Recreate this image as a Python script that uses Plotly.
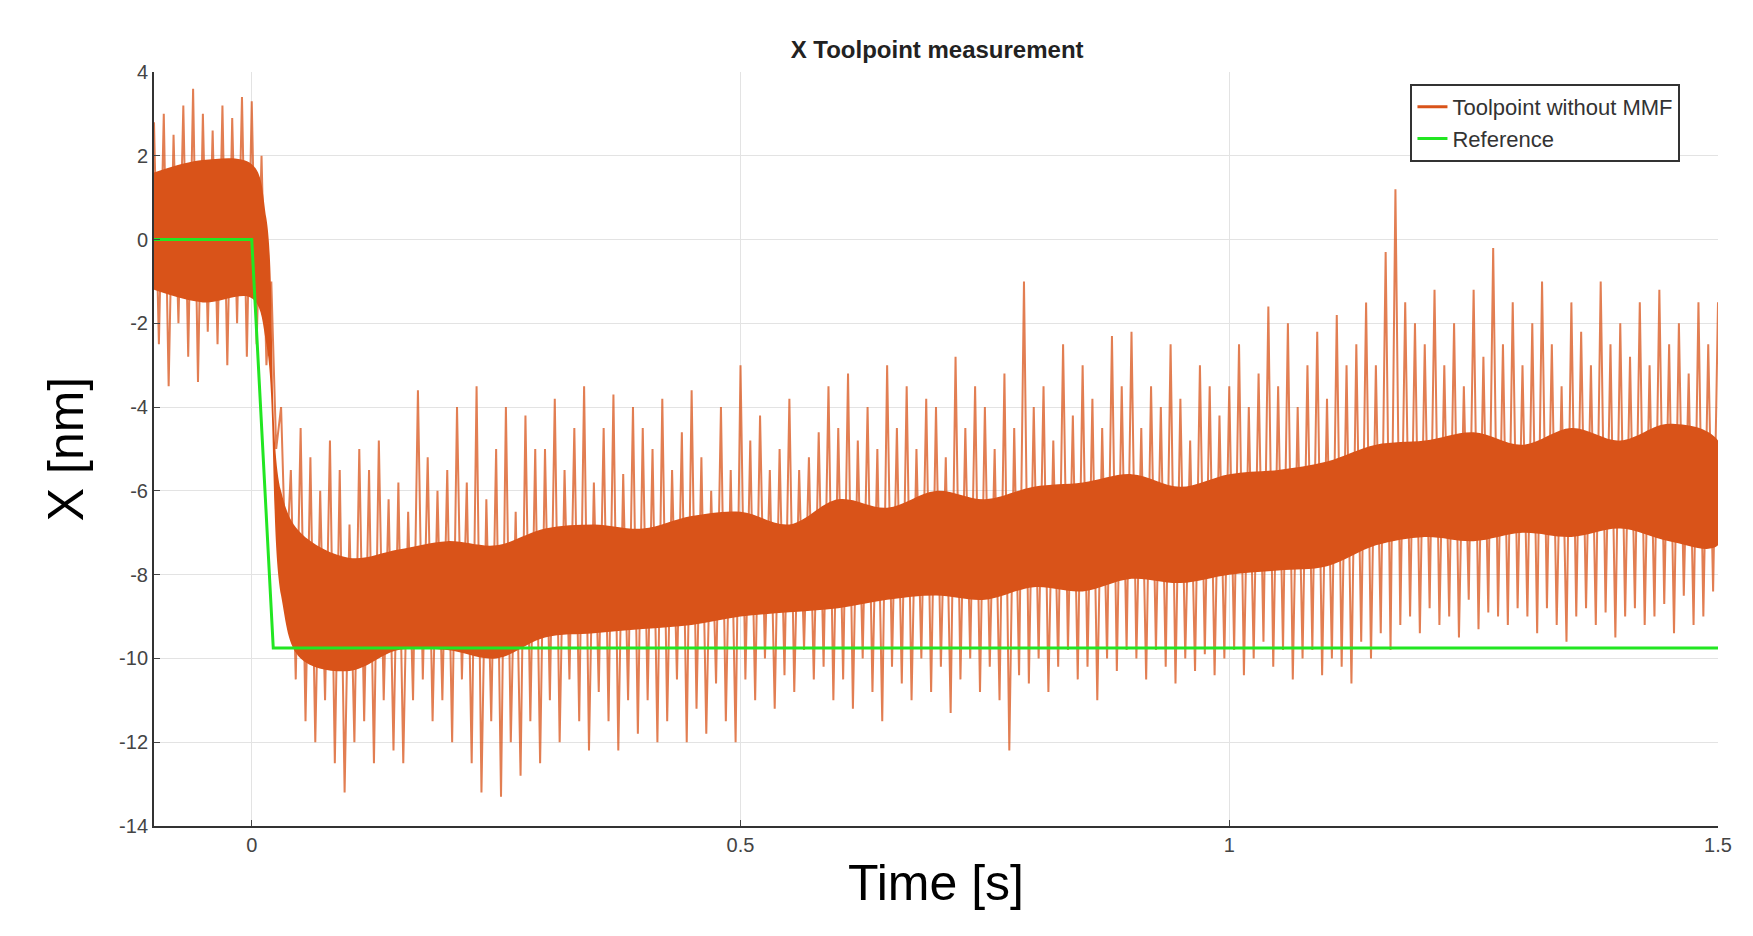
import numpy as np
import plotly.graph_objects as go

# sampled extremes of the measured signal, one pair every 0.01 s from -0.10 to 1.50
t_peak = np.round(np.arange(-0.10, 1.5001, 0.01), 3)
hi = [2.8, 3.0, 2.5, 3.2, 3.6, 3.0, 2.6, 3.2, 2.9, 3.4,
      3.3, 2.0, -1.0, -4.0, -5.5, -4.5, -5.2, -6.0, -4.8, -5.5,
      -6.8, -5.0, -5.5, -4.8, -6.2, -5.8, -6.5, -3.6, -5.2, -6.0,
      -5.5, -4.0, -5.8, -3.5, -6.2, -5.0, -4.0, -6.5, -4.2, -5.0,
      -5.0, -3.8, -5.5, -4.5, -3.5, -5.8, -4.5, -3.7, -5.6, -4.0,
      -4.5, -5.0, -3.8, -5.5, -4.6, -3.6, -5.2, -6.0, -4.0, -5.5,
      -3.0, -4.8, -4.2, -5.5, -5.0, -3.8, -5.5, -5.2, -4.6, -3.5,
      -4.5, -3.2, -4.8, -4.0, -5.0, -3.0, -4.5, -3.5, -5.0, -3.8,
      -4.0, -5.2, -2.8, -4.5, -3.5, -4.0, -5.0, -3.2, -4.5, -1.0,
      -4.0, -3.5, -4.8, -2.5, -4.2, -3.0, -3.8, -4.5, -2.3, -3.5,
      -2.2, -4.5, -3.5, -4.0, -2.5, -3.8, -4.8, -3.0, -3.5, -4.2,
      -3.5, -2.5, -4.0, -3.2, -1.6, -3.5, -2.0, -4.0, -3.0, -2.2,
      -3.8, -1.8, -3.0, -2.5, -1.5, -3.0, -0.3, 1.2, -1.5, -2.0,
      -2.5, -1.2, -3.0, -2.0, -3.5, -1.2, -2.8, -0.2, -2.5, -1.5,
      -3.0, -2.0, -1.0, -2.5, -3.5, -1.5, -2.2, -3.0, -1.0, -2.5,
      -2.0, -2.8, -1.5, -3.0, -1.2, -2.5, -2.0, -3.2, -1.5, -2.5, -1.5]
lo = [-2.5, -3.5, -2.0, -2.8, -3.4, -2.2, -2.5, -3.0, -2.0, -2.8,
      -2.5, -3.0, -5.0, -8.0, -10.5, -11.5, -12.0, -11.0, -12.5, -13.2,
      -12.0, -11.5, -12.5, -11.0, -12.2, -12.5, -11.0, -10.5, -11.5, -11.0,
      -12.0, -10.5, -12.5, -13.2, -11.5, -13.3, -12.0, -12.8, -11.5, -12.5,
      -11.0, -12.0, -10.5, -11.5, -12.2, -10.8, -11.5, -12.2, -11.0, -11.8,
      -11.0, -12.0, -11.5, -10.5, -12.0, -11.2, -11.8, -10.6, -11.5, -12.0,
      -10.5, -11.0, -10.0, -11.2, -10.4, -10.8, -9.8, -10.5, -10.2, -11.0,
      -10.5, -11.2, -10.0, -10.8, -11.5, -10.2, -10.6, -11.0, -10.0, -10.8,
      -10.2, -11.3, -10.5, -10.0, -10.8, -10.2, -11.0, -12.2, -10.4, -10.6,
      -10.0, -10.8, -10.2, -9.8, -10.5, -10.2, -11.0, -10.0, -10.3, -9.8,
      -10.0, -10.5, -9.8, -10.2, -10.6, -10.0, -10.3, -9.9, -10.4, -10.0,
      -9.8, -10.4, -10.0, -9.6, -10.2, -9.8, -10.5, -10.0, -9.8, -10.4,
      -10.0, -10.2, -10.6, -9.6, -10.0, -9.4, -9.8, -9.2, -9.0, -9.4,
      -8.8, -9.2, -9.0, -9.5, -8.6, -9.3, -8.9, -9.0, -9.2, -8.8,
      -9.0, -9.4, -8.8, -9.2, -9.6, -9.0, -8.8, -9.2, -8.9, -9.5,
      -9.0, -8.8, -9.2, -9.0, -8.7, -9.4, -8.5, -9.2, -9.0, -8.4, -8.8]

# dense core of the noise band
t_core = [-0.10, -0.05, 0.00, 0.015, 0.03, 0.05, 0.10, 0.15, 0.20, 0.25, 0.30, 0.35,
          0.40, 0.45, 0.50, 0.55, 0.60, 0.65, 0.70, 0.75, 0.80, 0.85, 0.90, 0.95,
          1.00, 1.05, 1.10, 1.15, 1.20, 1.25, 1.30, 1.35, 1.40, 1.45, 1.50]
core_hi = [1.6, 1.9, 1.8, 0.5, -6.0, -7.0, -7.6, -7.4, -7.2, -7.3, -6.9, -6.8,
           -6.9, -6.6, -6.5, -6.8, -6.2, -6.4, -6.0, -6.2, -5.9, -5.8, -5.6, -5.9,
           -5.6, -5.5, -5.3, -4.9, -4.8, -4.6, -4.9, -4.5, -4.8, -4.4, -4.8]
core_lo = [-1.2, -1.5, -1.4, -2.5, -8.5, -10.0, -10.3, -9.8, -9.8, -10.0, -9.5, -9.4,
           -9.3, -9.2, -9.0, -8.9, -8.8, -8.6, -8.5, -8.6, -8.3, -8.4, -8.1, -8.2,
           -8.0, -7.9, -7.8, -7.3, -7.1, -7.2, -7.0, -7.1, -6.9, -7.2, -7.3]

# reference step
t_ref = [-0.1, 0.0, 0.022, 1.5]
x_ref = [0, 0, -9.75, -9.75]

orange = "#d95319"

# zigzag between the extremes
zx, zy = [], []
for t, a, b in zip(t_peak, hi, lo):
    zx += [t, t + 0.005]
    zy += [a, b]

fig = go.Figure()
fig.add_scatter(x=zx, y=zy, mode="lines", line=dict(color=orange, width=2),
                opacity=0.75, showlegend=False, hoverinfo="skip")
fig.add_scatter(x=t_core + t_core[::-1], y=core_hi + core_lo[::-1],
                fill="toself", fillcolor=orange, line=dict(width=0, shape="spline"),
                mode="lines", showlegend=False, hoverinfo="skip")
fig.add_scatter(x=[None], y=[None], mode="lines", line=dict(color=orange, width=3),
                name="Toolpoint without MMF")
fig.add_scatter(x=t_ref, y=x_ref, mode="lines", line=dict(color="#22e622", width=3),
                name="Reference")

yticks = list(range(-14, 5, 2))
fig.update_layout(
    width=1753, height=936,
    margin=dict(l=146, r=43, t=64, b=118),
    paper_bgcolor="white", plot_bgcolor="white",
    title=dict(text="<b>X Toolpoint measurement</b>", x=0.53, xanchor="center",
               y=0.965, font=dict(size=24, color="#222", family="Liberation Sans")),
    legend=dict(x=0.976, y=0.984, xanchor="right", yanchor="top",
                bordercolor="#333", borderwidth=2, bgcolor="white",
                font=dict(size=22, color="#333", family="Liberation Sans")),
    font=dict(family="Liberation Sans"),
)
fig.update_xaxes(range=[-0.1, 1.5], tickvals=[0, 0.5, 1, 1.5], ticktext=["0", "0.5", "1", "1.5"],
                 showgrid=True, gridcolor="#e3e3e3", zeroline=False,
                 showline=True, linecolor="#333", linewidth=2, ticks="inside", ticklen=6,
                 tickfont=dict(size=20, color="#444"),
                 title=dict(text="Time [s]", font=dict(size=50, color="black"), standoff=10))
fig.update_yaxes(range=[-14, 4], tickvals=yticks, ticktext=[str(v) for v in yticks],
                 showgrid=True, gridcolor="#e3e3e3", zeroline=False,
                 showline=True, linecolor="#333", linewidth=2, ticks="inside", ticklen=6,
                 tickfont=dict(size=20, color="#444"),
                 title=dict(text="X [nm]", font=dict(size=50, color="black"), standoff=20))

fig.write_html("out.html")
